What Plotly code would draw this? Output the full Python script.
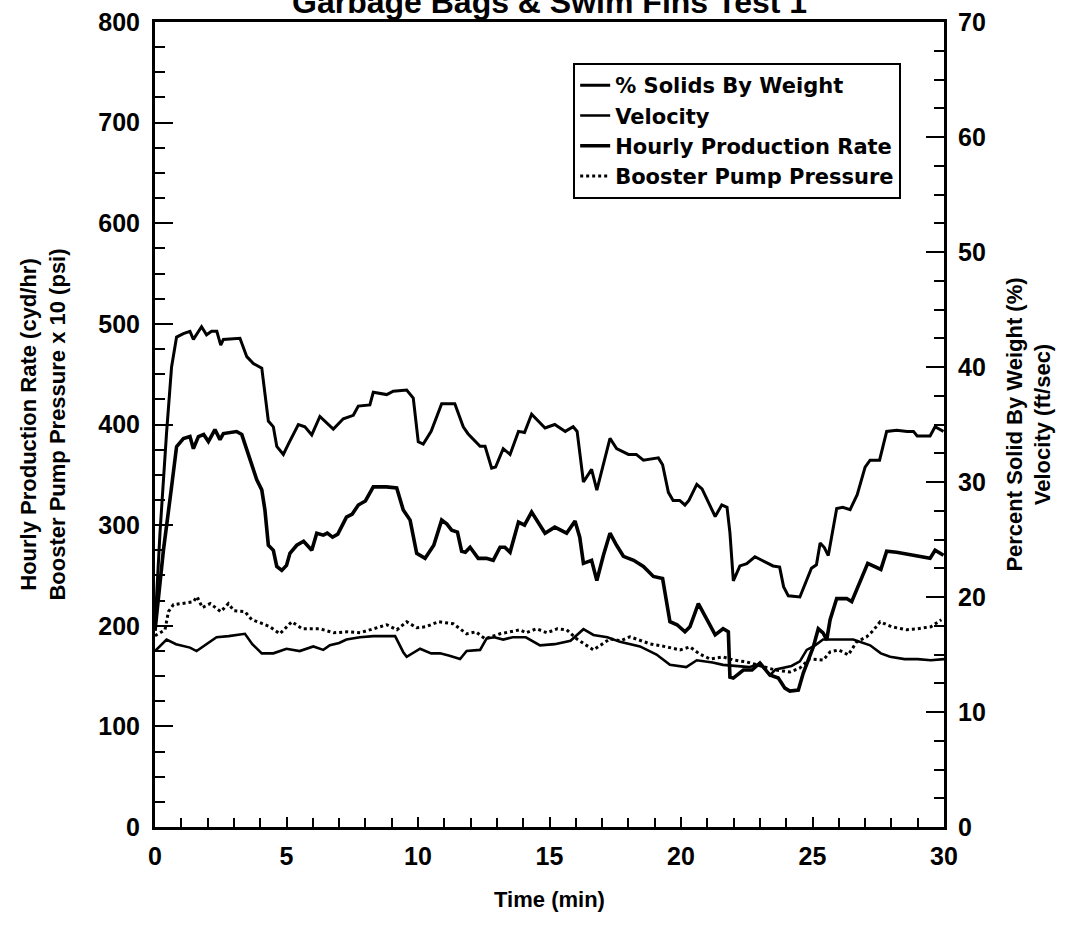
import plotly.graph_objects as go

# % Solids By Weight (right axis, %)
solids_t = [0.0, 0.19, 0.44, 0.63, 0.82, 1.08, 1.33, 1.46, 1.77, 1.96, 2.15, 2.35, 2.5, 2.6, 3.23, 3.49, 3.74, 4.06,
            4.31, 4.5, 4.63, 4.88, 5.07, 5.45, 5.7, 5.96, 6.27, 6.78, 7.16, 7.54, 7.73, 8.17, 8.3, 8.81, 9.06, 9.57,
            9.82, 10.01, 10.2, 10.5, 10.9, 11.4, 11.72, 11.9, 12.36, 12.55, 12.8, 12.95, 13.24, 13.5, 13.82, 14.05,
            14.32, 14.83, 15.2, 15.6, 15.9, 16.05, 16.29, 16.6, 16.8, 17.05, 17.3, 17.55, 18.0, 18.3, 18.57, 19.14,
            19.3, 19.52, 19.7, 19.95, 20.15, 20.3, 20.6, 20.8, 21.04, 21.3, 21.55, 21.75, 21.86, 21.99, 22.24, 22.5,
            22.81, 23.5, 23.75, 23.9, 24.08, 24.52, 24.96, 25.15, 25.29, 25.45, 25.6, 25.92, 26.15, 26.43, 26.7,
            27.0, 27.19, 27.55, 27.82, 28.2, 28.6, 28.84, 28.98, 29.2, 29.47, 29.66, 29.98]
solids_pct = [17.5, 25.6, 34.3, 40.0, 42.6, 42.9, 43.1, 42.4, 43.5, 42.8, 43.1, 43.1, 41.9, 42.4, 42.5, 40.9, 40.3, 39.9,
              35.3, 34.8, 33.1, 32.4, 33.3, 35.0, 34.8, 34.1, 35.7, 34.6, 35.5, 35.8, 36.6, 36.7, 37.8, 37.6, 37.9, 38.0,
              37.3, 33.5, 33.3, 34.4, 36.8, 36.8, 34.8, 34.2, 33.1, 33.1, 31.2, 31.3, 32.9, 32.4, 34.4, 34.3,
              35.9, 34.7, 35.0, 34.4, 34.8, 34.4, 30.0, 31.1, 29.3, 31.5, 33.8, 32.9, 32.4, 32.4, 31.9, 32.1,
              31.5, 29.1, 28.4, 28.4, 28.0, 28.4, 29.8, 29.4, 28.2, 27.0, 28.0, 27.8, 25.6, 21.4, 22.7, 22.9,
              23.5, 22.7, 22.6, 20.9, 20.1, 20.0, 22.5, 22.8, 24.7, 24.3, 23.6, 27.7, 27.8, 27.6, 28.9,
              31.3, 31.9, 31.9, 34.4, 34.5, 34.4, 34.4, 34.0, 34.0, 34.0, 34.8, 34.4]

# Velocity (right axis, ft/sec)
vel_t = [0.0, 0.19, 0.44, 0.8, 1.33, 1.58, 1.9, 2.34, 2.8, 3.42, 3.7, 4.06, 4.5, 5.0, 5.5, 6.02, 6.4, 6.65, 7.0, 7.28,
         7.79, 8.3, 9.13, 9.44, 9.57, 10.08, 10.5, 10.84, 11.2, 11.6, 11.85, 12.36, 12.61, 12.9, 13.24, 13.6, 14.1,
         14.64, 15.2, 15.8, 16.29, 16.67, 17.2, 17.68, 18.44, 19.07, 19.58, 20.2, 20.6, 21.2, 21.6, 22.6, 22.87,
         23.1, 23.38, 23.6, 24.2, 24.52, 24.78, 25.1, 25.4, 26.0, 26.55, 27.19, 27.6, 27.95, 28.5, 29.0, 29.5, 30.0]
vel_fps = [15.3, 15.7, 16.3, 15.9, 15.6, 15.3, 15.8, 16.5, 16.6, 16.8, 15.9, 15.1, 15.1, 15.5, 15.3, 15.7, 15.4, 15.8, 16.0, 16.3,
           16.5, 16.6, 16.6, 15.2, 14.8, 15.5, 15.1, 15.1, 14.9, 14.6, 15.3, 15.4, 16.4, 16.5, 16.3, 16.5, 16.5,
           15.8, 15.9, 16.2, 17.2, 16.7, 16.5, 16.1, 15.7, 15.0, 14.1, 13.9, 14.5, 14.3, 14.1, 13.9, 14.1,
           14.0, 13.2, 13.7, 14.0, 14.4, 15.4, 15.8, 16.3, 16.3, 16.3, 15.8, 15.1, 14.8, 14.6, 14.6, 14.5, 14.6]

# Hourly Production Rate (left axis, cyd/hr)
prod_t = [0.0, 0.32, 0.63, 0.82, 1.08, 1.33, 1.46, 1.65, 1.85, 2.03, 2.28, 2.47, 2.6, 3.1, 3.3, 3.61, 3.87, 4.06, 4.18,
          4.31, 4.5, 4.63, 4.82, 5.0, 5.13, 5.39, 5.65, 5.96, 6.15, 6.4, 6.55, 6.75, 6.95, 7.28, 7.5, 7.73, 8.0, 8.3,
          8.8, 9.19, 9.44, 9.7, 9.95, 10.27, 10.6, 10.9, 11.1, 11.28, 11.5, 11.66, 11.8, 11.98, 12.29, 12.6, 12.86,
          13.12, 13.3, 13.5, 13.82, 14.05, 14.32, 14.83, 15.2, 15.65, 15.97, 16.15, 16.29, 16.6, 16.8, 17.05, 17.3,
          17.55, 17.81, 18.2, 18.57, 18.95, 19.3, 19.58, 19.85, 20.15, 20.34, 20.66, 21.0, 21.3, 21.6, 21.8, 21.86,
          21.99, 22.37, 22.7, 23.0, 23.38, 23.7, 23.95, 24.14, 24.46, 24.65, 24.84, 25.03, 25.22, 25.4, 25.54,
          25.67, 25.92, 26.3, 26.49, 26.93, 27.1, 27.6, 27.82, 28.2, 28.6, 28.98, 29.47, 29.66, 29.98]
prod_cyd = [195, 275, 338, 378, 386, 388, 376, 388, 390, 383, 395, 385, 391, 393, 390, 365, 345, 335, 315,
            280, 275, 259, 255, 260, 272, 280, 284, 275, 292, 290, 292, 288, 291, 308, 311, 320, 324, 338,
            338, 337, 315, 305, 272, 267, 280, 305, 301, 295, 293, 274, 273, 278, 267, 267, 265,
            278, 278, 273, 303, 300, 313, 292, 298, 292, 304, 288, 262, 265, 245, 270, 292,
            280, 269, 265, 259, 249, 247, 204, 201, 194, 199, 222, 205, 191, 197, 194, 149,
            148, 156, 156, 163, 151, 148, 138, 135, 136, 153, 167, 179, 197, 193, 186,
            206, 227, 227, 224, 252, 262, 256, 274, 273, 271, 269, 267, 275, 270]

# Booster Pump Pressure x 10 (left axis, psi x 10)
press_t = [0.0, 0.38, 0.51, 0.7, 1.0, 1.46, 1.6, 1.8, 2.1, 2.5, 2.79, 3.0, 3.42, 3.68, 4.0, 4.37, 4.75, 5.2, 5.6, 6.27,
           6.8, 7.3, 7.8, 8.3, 8.81, 9.2, 9.57, 9.95, 10.3, 10.77, 11.34, 11.85, 12.2, 12.55, 13.12, 13.88, 14.1,
           14.51, 14.9, 15.3, 15.65, 16.03, 16.67, 17.3, 17.7, 18.06, 18.82, 19.45, 19.96, 20.34, 20.7, 21.1, 21.6,
           21.99, 22.5, 23.17, 23.6, 24.14, 24.52, 24.9, 25.41, 25.67, 26.0, 26.36, 26.68, 27.06, 27.3, 27.57, 28.0,
           28.58, 29.0, 29.5, 29.9]
press_x10 = [190, 196, 214, 221, 222, 224, 229, 218, 222, 214, 222, 215, 214, 206, 203, 199, 192, 204, 197, 197,
             193, 194, 193, 197, 201, 196, 204, 198, 199, 204, 202, 192, 194, 187, 192, 196, 193,
             197, 193, 197, 196, 187, 176, 187, 185, 189, 182, 179, 176, 179, 172, 167, 169,
             166, 164, 159, 156, 154, 158, 167, 166, 174, 176, 171, 184, 189, 195, 204, 199,
             196, 197, 199, 206]

TITLE = "Garbage Bags & Swim Fins Test 1"
FONT = "Arial"
BLACK = "#000000"

fig = go.Figure()
fig.add_trace(go.Scatter(x=solids_t, y=solids_pct, name="% Solids By Weight", yaxis="y2", mode="lines",
                         line=dict(color=BLACK, width=3)))
fig.add_trace(go.Scatter(x=vel_t, y=vel_fps, name="Velocity", yaxis="y2", mode="lines",
                         line=dict(color=BLACK, width=2.6)))
fig.add_trace(go.Scatter(x=prod_t, y=prod_cyd, name="Hourly Production Rate", yaxis="y", mode="lines",
                         line=dict(color=BLACK, width=3.6)))
fig.add_trace(go.Scatter(x=press_t, y=press_x10, name="Booster Pump Pressure", yaxis="y", mode="lines",
                         line=dict(color=BLACK, width=3, dash="dot")))

tickfont = dict(family=FONT, size=25, color=BLACK, weight="bold")
titlefont = dict(family=FONT, size=22, color=BLACK, weight="bold")

fig.add_annotation(text=TITLE, xref="paper", yref="paper", x=0.5, y=1.0245,
                   xanchor="center", yanchor="middle", showarrow=False,
                   font=dict(family=FONT, size=32, color=BLACK, weight="bold"))

fig.update_layout(
    width=1075, height=928,
    paper_bgcolor="white", plot_bgcolor="white",
    margin=dict(l=155, r=131, t=22, b=101, autoexpand=False),
    showlegend=True,
    legend=dict(x=0.53, y=0.949, xanchor="left", yanchor="top",
                bgcolor="white", bordercolor=BLACK, borderwidth=2,
                font=dict(family="DejaVu Sans", size=21, color=BLACK, weight="bold"),
                itemwidth=30, tracegroupgap=0),
    xaxis=dict(range=[0, 30], dtick=5, tick0=0, ticks="inside", ticklen=10, tickwidth=2, tickcolor=BLACK,
               minor=dict(dtick=1, ticks="inside", ticklen=9, tickwidth=2, tickcolor=BLACK),
               showline=True, linewidth=3, linecolor=BLACK, mirror=True, automargin=False,
               showgrid=False, zeroline=False, tickfont=tickfont, ticklabelstandoff=5,
               ticklabeloverflow="allow",
               title=dict(text="Time (min)", font=titlefont, standoff=23)),
    yaxis=dict(range=[0, 800], dtick=100, tick0=0, ticks="inside", ticklen=18, tickwidth=2, tickcolor=BLACK,
               minor=dict(dtick=25, ticks="inside", ticklen=10, tickwidth=2, tickcolor=BLACK),
               showline=True, linewidth=3, linecolor=BLACK, automargin=False,
               showgrid=False, zeroline=False, tickfont=tickfont, ticklabelstandoff=7,
               ticklabeloverflow="allow",
               title=dict(text="Hourly Production Rate (cyd/hr)<br>Booster Pump Pressure x 10 (psi)",
                          font=titlefont, standoff=27)),
    yaxis2=dict(range=[0, 70], dtick=10, tick0=0, ticks="inside", ticklen=18, tickwidth=2, tickcolor=BLACK,
                minor=dict(dtick=2.5, ticks="inside", ticklen=10, tickwidth=2, tickcolor=BLACK),
                overlaying="y", side="right", anchor="x",
                showline=True, linewidth=3, linecolor=BLACK, automargin=False,
                showgrid=False, zeroline=False, tickfont=tickfont, ticklabelstandoff=6,
                ticklabeloverflow="allow",
                title=dict(text="Percent Solid By Weight (%)<br>Velocity (ft/sec)",
                           font=titlefont, standoff=22)),
)

fig.write_html("out.html", config={"displayModeBar": False},
               post_script="document.body.style.margin='0';")
